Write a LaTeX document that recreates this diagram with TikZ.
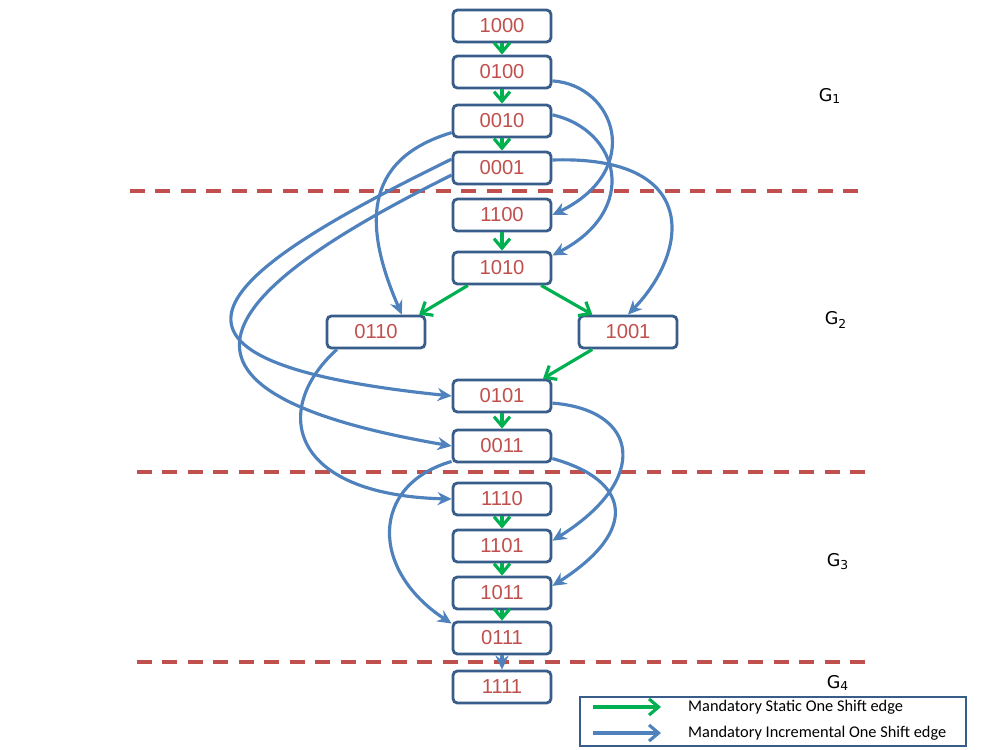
\documentclass[tikz,border=0pt]{standalone}
\usepackage{fontspec}
\usepackage{xcolor}
\usepackage{tikz}
\usetikzlibrary{arrows.meta}
\setmainfont{Liberation Sans}
\newfontfamily\legendfont{Carlito}
\newfontfamily\groupfont{DejaVu Sans}
\definecolor{SBorder}{HTML}{385D8A}
\definecolor{SRed}{HTML}{C0504D}
\definecolor{SBlue}{HTML}{4F81BD}
\definecolor{SGreen}{HTML}{00B050}

\begin{document}
\begin{tikzpicture}[x=0.02cm,y=-0.02cm,
  state/.style={draw=SBorder,line width=1.6pt,rounded corners=2.5pt,fill=white,
    minimum width=1.96cm,minimum height=0.64cm,inner sep=0pt,
    text=SRed,font=\fontsize{11.5}{13}\selectfont},
  stat/.style={-{Straight Barb[length=1.9mm,width=3.2mm]},line width=1.8pt,color=SGreen},
  incr/.style={-{Stealth[length=2.8mm,width=2.6mm]},line width=1.8pt,color=SBlue},
  legincr/.style={-{Straight Barb[length=1.9mm,width=3.2mm]},line width=1.8pt,color=SBlue},
  sep/.style={SRed,line width=2.2pt,dash pattern=on 8.5pt off 6pt},
  grp/.style={font=\groupfont\fontsize{10}{12}\selectfont}
]
  \useasboundingbox (0,0) rectangle (1000,750);

  % group separators
  \coordinate (l1a) at (130,191); \coordinate (l1b) at (866,191);
  \coordinate (l2a) at (137,472); \coordinate (l2b) at (872,472);
  \coordinate (l3a) at (137,662); \coordinate (l3b) at (872,662);
  \draw[sep] (l1a) -- (l1b);
  \draw[sep] (l2a) -- (l2b);
  \draw[sep] (l3a) -- (l3b);

  \node[grp] (g1) at (830,96) {G\textsubscript{1}};
  \node[grp] (g2) at (836,320) {G\textsubscript{2}};
  \node[grp] (g3) at (838,562) {G\textsubscript{3}};
  \node[grp] (g4) at (838,683) {G\textsubscript{4}};

  % states
  \node[state] (n1000) at (502,26) {1000};
  \node[state] (n0100) at (502,72) {0100};
  \node[state] (n0010) at (502,121) {0010};
  \node[state] (n0001) at (502,168) {0001};
  \node[state] (n1100) at (502,215) {1100};
  \node[state] (n1010) at (502,268) {1010};
  \node[state] (n0110) at (376,332) {0110};
  \node[state] (n1001) at (628,332) {1001};
  \node[state] (n0101) at (502,396) {0101};
  \node[state] (n0011) at (502,446) {0011};
  \node[state] (n1110) at (502,499) {1110};
  \node[state] (n1101) at (502,546) {1101};
  \node[state] (n1011) at (502,593) {1011};
  \node[state] (n0111) at (502,638) {0111};
  \node[state] (n1111) at (502,687) {1111};

  % static one shift edges
  \draw[stat] (n1000) -- (n0100);
  \draw[stat] (n0100) -- (n0010);
  \draw[stat] (n0010) -- (n0001);
  \draw[stat] (n1100) -- (n1010);
  \draw[stat] (n1010.207) -- (n0110.22);
  \draw[stat] (n1010.-24) -- (n1001.154);
  \draw[stat] (n1001.206) -- (n0101.23);
  \draw[stat] (n0101) -- (n0011);
  \draw[stat] (n1110) -- (n1101);
  \draw[stat] (n1101) -- (n1011);
  \draw[stat] (n1011) -- (n0111);

  % incremental one shift edges
  \draw[incr] (n0100.-10) .. controls (615,85) and (645,170) .. (n1100.east);
  \draw[incr] (n0010.7) .. controls (620,130) and (640,210) .. (n1010.14);
  \draw[incr] (n0001.9) .. controls (700,155) and (690,250) .. (n1001.north);
  \draw[incr] (n0010.193) .. controls (360,160) and (365,230) .. (n0110.34);
  \draw[incr] (n0001.170) .. controls (225,270) and (100,360) .. (n0101.west);
  \draw[incr] (n0001.188) .. controls (220,290) and (125,390) .. (n0011.west);
  \draw[incr] (n0110.204) .. controls (270,410) and (290,495) .. (n1110.west);
  \draw[incr] (n0101.-8) .. controls (640,410) and (650,480) .. (n1101.6);
  \draw[incr] (n0011.-14) .. controls (630,480) and (640,530) .. (n1011.8);
  \draw[incr] (n0011.197) .. controls (370,485) and (370,570) .. (n0111.164);
  \draw[incr] (n0111) -- (n1111);

  % legend
  \node[draw=SBorder,line width=1.5pt,minimum width=7.72cm,minimum height=0.98cm,
    inner sep=0pt] (leg) at (773,721.5) {};
  \coordinate (k1a) at (593,707); \coordinate (k1b) at (661,707);
  \coordinate (k2a) at (593,733); \coordinate (k2b) at (661,733);
  \draw[stat] (k1a) -- (k1b);
  \draw[legincr] (k2a) -- (k2b);
  \node[anchor=west,font=\legendfont\fontsize{9.3}{11}\selectfont] (t1) at (682,707)
    {Mandatory Static One Shift edge};
  \node[anchor=west,font=\legendfont\fontsize{9.3}{11}\selectfont] (t2) at (682,733)
    {Mandatory Incremental One Shift edge};
\end{tikzpicture}
\end{document}
